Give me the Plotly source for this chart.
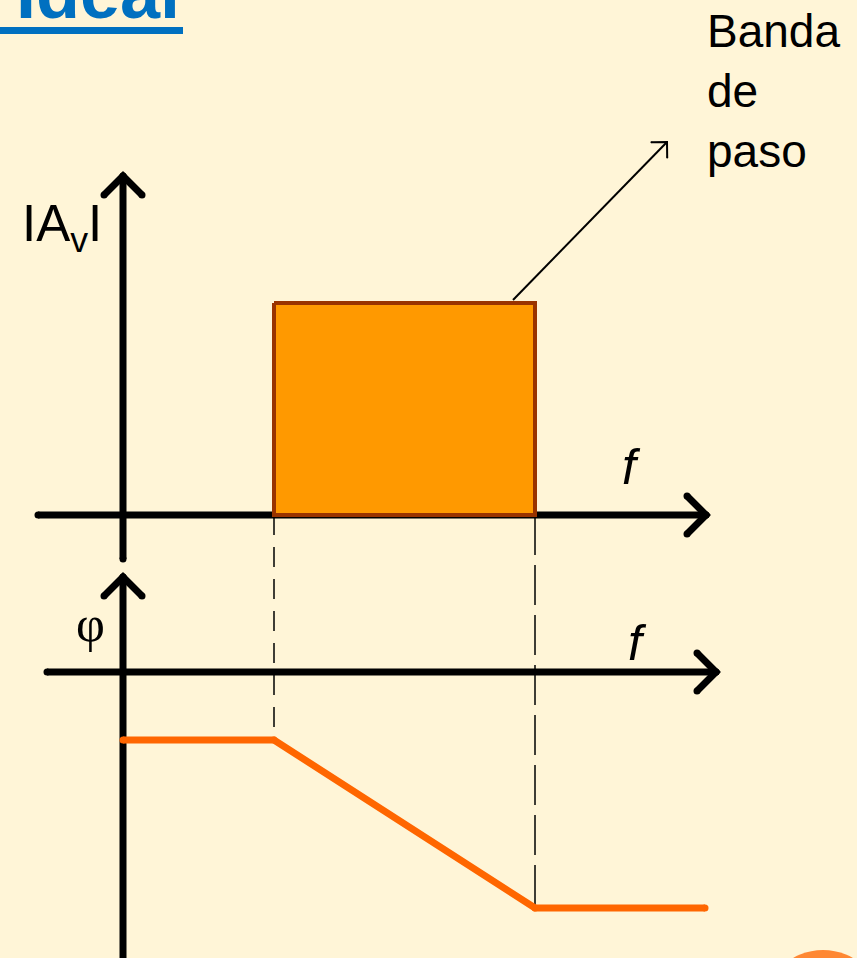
import math
import plotly.graph_objects as go

# ---- diagram values (frame: x = frequency position, y = drawing level, y grows downward) ----
band_f = [274, 535]          # pass-band edges
band_top = 303               # |Av| level in the pass band
mag_zero = 515               # |Av| axis baseline
mag_axis_x = 123
mag_axis_y = [559, 176]
mag_faxis_x = [38, 706]

phase_zero = 672
phase_axis_y = [970, 577]
phase_faxis_x = [47, 716]
phase_f = [123, 274, 535, 705]
phase_v = [740, 740, 908, 908]

label_arrow_x = [513, 667]
label_arrow_y = [300, 142]

BG = "#FFF5D7"
fig = go.Figure()

def line(x, y, color="black", width=7, dash=None, caps=True):
    fig.add_trace(go.Scatter(x=x, y=y, mode="lines", hoverinfo="skip",
                             line=dict(color=color, width=width, dash=dash)))
    if caps:
        fig.add_trace(go.Scatter(x=x, y=y, mode="markers", hoverinfo="skip",
                                 marker=dict(color=color, size=width, line=dict(width=0))))

def chevron(tx, ty, dx, dy, arm=19, width=7, color="black"):
    pts = []
    for s in (1, -1):
        ang = math.atan2(dy, dx) + math.pi + s * math.pi / 4
        pts.append((tx + arm * math.sqrt(2) * math.cos(ang), ty + arm * math.sqrt(2) * math.sin(ang)))
    line([pts[0][0], tx, pts[1][0]], [pts[0][1], ty, pts[1][1]], color=color, width=width)

# dashed guides
line([band_f[0], band_f[0]], [mag_zero, phase_v[1]], width=1.5, dash="20px,12px", caps=False)
line([band_f[1], band_f[1]], [mag_zero, phase_v[2]], width=1.5, dash="40px,10px", caps=False)

# magnitude axes
line([mag_axis_x, mag_axis_x], mag_axis_y)
chevron(mag_axis_x, mag_axis_y[1], 0, -1)
line(mag_faxis_x, [mag_zero, mag_zero])
chevron(mag_faxis_x[1], mag_zero, 1, 0)

# pass band block
fig.add_trace(go.Scatter(x=[band_f[0], band_f[1], band_f[1], band_f[0], band_f[0]],
                         y=[band_top, band_top, mag_zero, mag_zero, band_top],
                         mode="lines", fill="toself", fillcolor="#FF9900",
                         line=dict(color="#993300", width=4), hoverinfo="skip"))

# phase axes
line([mag_axis_x, mag_axis_x], phase_axis_y)
chevron(mag_axis_x, phase_axis_y[1], 0, -1)
line(phase_faxis_x, [phase_zero, phase_zero])
chevron(phase_faxis_x[1], phase_zero, 1, 0)

# phase response
line(phase_f, phase_v, color="#FF6600", width=7)

# label arrow
ux = label_arrow_x[1] - label_arrow_x[0]
uy = label_arrow_y[1] - label_arrow_y[0]
n = math.hypot(ux, uy)
line(label_arrow_x, label_arrow_y, width=2, caps=False)
chevron(label_arrow_x[1], label_arrow_y[1], ux / n, uy / n, arm=11, width=2)

# title underline
line([0, 183], [30.5, 30.5], color="#0070C0", width=7, caps=False)

SANS = "Arial, Liberation Sans, sans-serif"
ann = [
    dict(x=14, y=35, text="<b>Ideal</b>", xanchor="left", yanchor="bottom",
         font=dict(family=SANS, size=72, color="#0070C0")),
    dict(x=705, y=3, text="Banda<br>de<br>paso", xanchor="left", yanchor="top", align="left",
         font=dict(family=SANS, size=46, color="black")),
    dict(x=20, y=227, text="IA<sub>v</sub>I", xanchor="left", yanchor="middle",
         font=dict(family=SANS, size=51, color="black")),
    dict(x=631, y=467, text="<i>f</i>", xanchor="center", yanchor="middle",
         font=dict(family=SANS, size=50, color="black")),
    dict(x=637, y=643, text="<i>f</i>", xanchor="center", yanchor="middle",
         font=dict(family=SANS, size=50, color="black")),
    dict(x=90, y=624, text="φ", xanchor="center", yanchor="middle",
         font=dict(family="Liberation Serif, serif", size=50, color="black")),
]
for a in ann:
    a.update(xref="x", yref="y", showarrow=False)

fig.update_layout(
    width=857, height=958, margin=dict(l=0, r=0, t=0, b=0),
    paper_bgcolor=BG, plot_bgcolor=BG, showlegend=False,
    xaxis=dict(range=[0, 857], visible=False, fixedrange=True),
    yaxis=dict(range=[958, 0], visible=False, fixedrange=True),
    annotations=ann,
    shapes=[dict(type="circle", xref="x", yref="y", x0=763, x1=883, y0=950, y1=1070,
                 fillcolor="#FF8833", line=dict(width=0), layer="above")],
)
fig.write_html("out.html", config={"displayModeBar": False},
               post_script="document.body.style.margin='0';document.body.style.overflow='hidden';")
